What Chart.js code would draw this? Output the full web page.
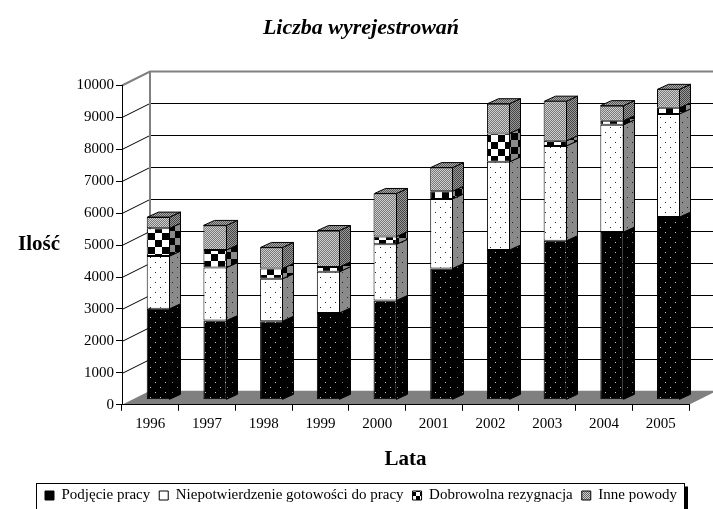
<!DOCTYPE html>
<html>
<head>
<meta charset="utf-8">
<script src="https://cdn.jsdelivr.net/npm/chart.js@4/dist/chart.umd.min.js"></script>
<style>
  html, body { margin: 0; padding: 0; background: #fff; }
</style>
</head>
<body>
<canvas id="chart" width="713" height="509"></canvas>
<script>
const years = ["1996", "1997", "1998", "1999", "2000", "2001", "2002", "2003", "2004", "2005"];

const podjeciePracy = [2850, 2480, 2460, 2720, 3110, 4110, 4690, 4980, 5250, 5720];
const niepotwierdzenie = [1650, 1660, 1330, 1290, 1760, 2180, 2760, 2970, 3360, 3230];
const dobrowolna = [870, 550, 320, 150, 240, 240, 890, 160, 130, 190];
const innePowody = [350, 770, 660, 1140, 1350, 740, 930, 1240, 470, 580];

const seriesNames = [
  "Podjęcie pracy",
  "Niepotwierdzenie gotowości do pracy",
  "Dobrowolna rezygnacja",
  "Inne powody",
];

const SERIF = "'Liberation Serif', 'DejaVu Serif', serif";

// depth of the walls and of the bars (oblique projection)
const WALL_DX = 28, WALL_DY = -14;
const BAR_OX = 8, BAR_OY = -5;
const BAR_DX = 11, BAR_DY = -5;

const ctx = document.getElementById("chart");
const c2d = ctx.getContext("2d");

function makePattern(w, h, draw) {
  const c = document.createElement("canvas");
  c.width = w;
  c.height = h;
  const g = c.getContext("2d");
  draw(g);
  return c2d.createPattern(c, "repeat");
}

function dots(bg, fg) {
  return makePattern(10, 10, (g) => {
    g.fillStyle = bg;
    g.fillRect(0, 0, 10, 10);
    g.fillStyle = fg;
    g.fillRect(2, 2, 1, 1);
    g.fillRect(7, 7, 1, 1);
  });
}

function checker(a, b, s) {
  return makePattern(s * 2, s * 2, (g) => {
    g.fillStyle = a;
    g.fillRect(0, 0, s * 2, s * 2);
    g.fillStyle = b;
    g.fillRect(0, 0, s, s);
    g.fillRect(s, s, s, s);
  });
}

function stipple(a, b) {
  return makePattern(2, 2, (g) => {
    g.fillStyle = a;
    g.fillRect(0, 0, 2, 2);
    g.fillStyle = b;
    g.fillRect(0, 0, 1, 1);
    g.fillRect(1, 1, 1, 1);
  });
}

const frontFill = [
  dots("#000", "#c8c8c8"),
  dots("#fff", "#222"),
  checker("#fff", "#000", 7),
  stipple("#d0d0d0", "#777"),
];
const sideFill = [
  dots("#000", "#777"),
  dots("#8a8a8a", "#222"),
  checker("#8a8a8a", "#000", 7),
  stipple("#999", "#444"),
];
const topFill = stipple("#aaa", "#555");
const legendFill = ["#000", "#fff", checker("#fff", "#000", 4), stipple("#d0d0d0", "#666")];

const threeD = {
  id: "threeD",
  beforeDraw(chart) {
    const { ctx, chartArea: a } = chart;
    const y = chart.scales.y;
    ctx.save();
    // floor
    ctx.fillStyle = "#808080";
    ctx.beginPath();
    ctx.moveTo(a.left, a.bottom);
    ctx.lineTo(a.right, a.bottom);
    ctx.lineTo(a.right + WALL_DX, a.bottom + WALL_DY);
    ctx.lineTo(a.left + WALL_DX, a.bottom + WALL_DY);
    ctx.closePath();
    ctx.fill();
    // gridlines on the back wall and the side wall
    for (let v = 1000; v <= 10000; v += 1000) {
      const py = Math.round(y.getPixelForValue(v)) + 0.5;
      ctx.strokeStyle = v === 10000 ? "#808080" : "#000";
      ctx.lineWidth = v === 10000 ? 2 : 1;
      ctx.beginPath();
      ctx.moveTo(a.left, py);
      ctx.lineTo(a.left + WALL_DX, py + WALL_DY);
      ctx.lineTo(a.right + WALL_DX + 10, py + WALL_DY);
      ctx.stroke();
    }
    // back wall left edge
    ctx.strokeStyle = "#808080";
    ctx.lineWidth = 2;
    ctx.beginPath();
    ctx.moveTo(a.left + WALL_DX, a.top + WALL_DY);
    ctx.lineTo(a.left + WALL_DX, a.bottom + WALL_DY);
    ctx.stroke();
    ctx.restore();
  },
  beforeDatasetsDraw(chart) {
    chart.ctx.save();
    chart.ctx.translate(BAR_OX, BAR_OY);
  },
  afterDatasetsDraw(chart) {
    const ctx = chart.ctx;
    ctx.restore();
    ctx.save();
    ctx.strokeStyle = "#000";
    ctx.lineWidth = 1;
    const metas = chart.data.datasets.map((d, i) => chart.getDatasetMeta(i));
    for (let j = 0; j < years.length; j++) {
      let topEl = null;
      metas.forEach((meta, i) => {
        const el = meta.data[j];
        const p = el.getProps(["x", "y", "base", "width"], true);
        if (Math.abs(p.base - p.y) < 0.1) return;
        const r = Math.round(p.x + p.width / 2) + BAR_OX - 0.5;
        const yt = p.y + BAR_OY;
        const yb = p.base + BAR_OY;
        ctx.fillStyle = sideFill[i];
        ctx.beginPath();
        ctx.moveTo(r, yt);
        ctx.lineTo(r + BAR_DX, yt + BAR_DY);
        ctx.lineTo(r + BAR_DX, yb + BAR_DY);
        ctx.lineTo(r, yb);
        ctx.closePath();
        ctx.fill();
        ctx.stroke();
        topEl = p;
      });
      if (topEl) {
        const l = Math.round(topEl.x - topEl.width / 2) + BAR_OX + 0.5;
        const r = Math.round(topEl.x + topEl.width / 2) + BAR_OX - 0.5;
        const yt = topEl.y + BAR_OY;
        ctx.fillStyle = topFill;
        ctx.beginPath();
        ctx.moveTo(l, yt);
        ctx.lineTo(r, yt);
        ctx.lineTo(r + BAR_DX, yt + BAR_DY);
        ctx.lineTo(l + BAR_DX, yt + BAR_DY);
        ctx.closePath();
        ctx.fill();
        ctx.stroke();
      }
    }
    ctx.restore();
  },
  afterDraw(chart) {
    const ctx = chart.ctx;
    ctx.save();
    // y axis title, horizontal
    ctx.fillStyle = "#000";
    ctx.font = "bold 21px " + SERIF;
    ctx.textAlign = "center";
    ctx.textBaseline = "middle";
    ctx.fillText("Ilość", 39, 245);
    // legend frame with shadow
    const boxes = chart.legend.legendHitBoxes;
    if (boxes && boxes.length) {
      const minX = Math.min(...boxes.map((b) => b.left));
      const maxX = Math.max(...boxes.map((b) => b.left + b.width));
      const top = Math.min(...boxes.map((b) => b.top));
      const x0 = Math.round(minX) - 8.5;
      const x1 = Math.round(maxX) + 7.5;
      const y0 = Math.round(top) - 4.5;
      ctx.strokeStyle = "#000";
      ctx.lineWidth = 1;
      ctx.strokeRect(x0, y0, x1 - x0, 40);
      ctx.fillStyle = "#000";
      ctx.fillRect(x1 + 0.5, y0 + 3, 3, 40);
    }
    ctx.restore();
  },
};

const chart = new Chart(ctx, {
  type: "bar",
  data: {
    labels: years,
    datasets: [podjeciePracy, niepotwierdzenie, dobrowolna, innePowody].map((values, i) => ({
      label: seriesNames[i],
      data: values,
      backgroundColor: frontFill[i],
      borderColor: "#000",
      borderWidth: 1,
      borderSkipped: false,
      categoryPercentage: 1,
      barPercentage: 0.41,
    })),
  },
  options: {
    responsive: false,
    animation: false,
    events: [],
    layout: {
      padding: { left: 33, right: 24, top: 0, bottom: -4 },
    },
    plugins: {
      title: {
        display: true,
        text: "Liczba wyrejestrowań",
        color: "#000",
        font: { family: SERIF, size: 22, weight: "bold", style: "italic" },
        padding: { top: 15, bottom: 44 },
      },
      legend: {
        position: "bottom",
        labels: {
          color: "#000",
          font: { family: SERIF, size: 15 },
          boxWidth: 9,
          boxHeight: 9,
          padding: 9,
          generateLabels: (chart) =>
            chart.data.datasets.map((d, i) => ({
              text: d.label,
              fillStyle: legendFill[i],
              strokeStyle: "#000",
              lineWidth: 1,
              hidden: false,
              datasetIndex: i,
              fontColor: "#000",
            })),
        },
      },
      tooltip: { enabled: false },
    },
    scales: {
      x: {
        stacked: true,
        grid: { drawOnChartArea: false, color: "#000", tickLength: 6, offset: true },
        border: { color: "#000" },
        ticks: { color: "#000", font: { family: SERIF, size: 15 }, padding: 4, maxRotation: 0 },
        title: {
          display: true,
          text: "Lata",
          color: "#000",
          font: { family: SERIF, size: 21, weight: "bold" },
          padding: { top: 10, bottom: 7 },
        },
      },
      y: {
        stacked: true,
        min: 0,
        max: 10000,
        afterFit: (scale) => {
          scale.width = 89;
        },
        grid: { drawOnChartArea: false, color: "#000", tickLength: 6 },
        border: { color: "#000" },
        ticks: {
          color: "#000",
          font: { family: SERIF, size: 15 },
          stepSize: 1000,
          padding: 2,
          callback: (v) => String(v),
        },
      },
    },
  },
  plugins: [threeD],
});
</script>
</body>
</html>
